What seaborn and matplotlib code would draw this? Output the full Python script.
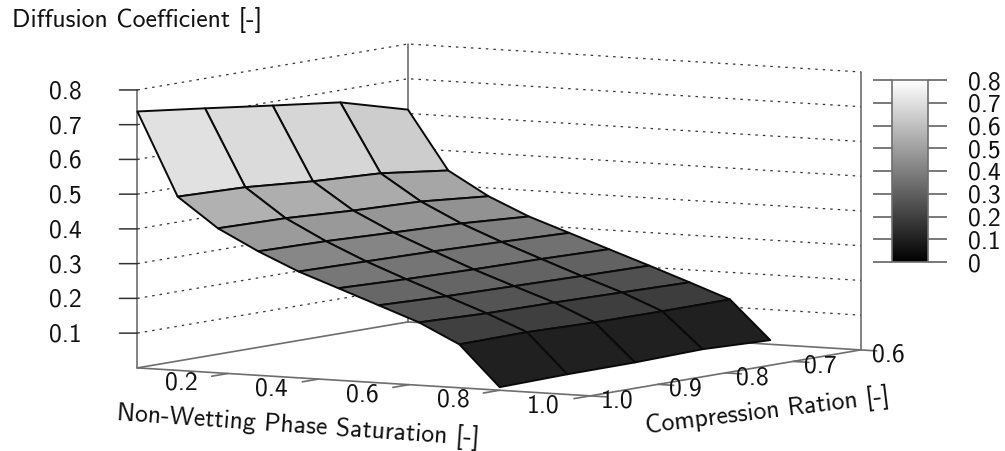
import numpy as np
import matplotlib
matplotlib.use("Agg")
import matplotlib.pyplot as plt
import seaborn as sns
from matplotlib.cm import ScalarMappable
from matplotlib.colors import Normalize
from mpl_toolkits.mplot3d import proj3d

# Values, one list per compression ratio
saturation = [0.0, 0.089, 0.178, 0.267, 0.356, 0.444, 0.533, 0.622, 0.711, 0.8]
compression = [1.0, 0.9, 0.8, 0.7, 0.6]
diff_c10 = [0.738, 0.500, 0.416, 0.357, 0.306, 0.265, 0.223, 0.181, 0.125, 0.009]
diff_c09 = [0.714, 0.494, 0.412, 0.353, 0.302, 0.258, 0.216, 0.174, 0.127, 0.013]
diff_c08 = [0.689, 0.478, 0.401, 0.345, 0.298, 0.253, 0.212, 0.172, 0.122, 0.014]
diff_c07 = [0.665, 0.468, 0.394, 0.338, 0.292, 0.250, 0.208, 0.168, 0.121, 0.019]
diff_c06 = [0.611, 0.443, 0.376, 0.325, 0.285, 0.245, 0.205, 0.164, 0.122, 0.012]

x_ticks = [0.2, 0.4, 0.6, 0.8, 1.0]
y_ticks = [1.0, 0.9, 0.8, 0.7, 0.6]
z_ticks = [0.1, 0.2, 0.3, 0.4, 0.5, 0.6, 0.7, 0.8]
cb_ticks = [0, 0.1, 0.2, 0.3, 0.4, 0.5, 0.6, 0.7, 0.8]
cb_labels = ["0", "0.1", "0.2", "0.3", "0.4", "0.5", "0.6", "0.7", "0.8"]

# Grey seen on a facet for a given mean height
shade_levels = [0, 0.07, 0.15, 0.205, 0.245, 0.285, 0.33, 0.385, 0.46, 0.62, 0.8]
shade_grays = [0, 0.13, 0.25, 0.35, 0.41, 0.47, 0.53, 0.61, 0.70, 0.89, 1]

sns.set_theme(style="white")
plt.rcParams["font.family"] = ["cmss10", "DejaVu Sans"]
plt.rcParams["axes.unicode_minus"] = False

axis_color = "#6e6e6e"
grid_style = {"color": "#333333", "lw": 0.9, "dashes": (2, 4), "zorder": 1}
axis_style = {"color": axis_color, "lw": 1.2, "zorder": 1}
text_color = "#111111"
font_size = 18.5

fig = plt.figure(figsize=(10.05, 4.51), dpi=100)
ax = fig.add_axes([-17 / 1005, -285 / 451, 1, 1005 / 451], projection="3d", proj_type="ortho")
ax.computed_zorder = False
ax.set_box_aspect((529, 524, 279.5), zoom=0.768)
ax.view_init(elev=5.88, azim=-58.9, roll=0)
ax.set_xlim(0, 1, view_margin=0)
ax.set_ylim(1.0, 0.6, view_margin=0)
ax.set_zlim(0, 0.8, view_margin=0)
ax.set_axis_off()


def tick_label(x, y, z, label, down=0):
    # Flat text at the projected spot of a data point, `down` pixels lower
    x2, y2, _ = proj3d.proj_transform(x, y, z, ax.get_proj())
    ax.text2D(x2, y2 - down * 0.185 / 1005, label, ha="center", va="center",
              fontsize=font_size, color=text_color)


# Box edges and the dotted grid on the two back walls
ax.plot([0, 0], [1.0, 1.0], [0, 0.8], **axis_style)
ax.plot([0, 0], [0.6, 0.6], [0, 0.8], **axis_style)
ax.plot([1, 1], [0.6, 0.6], [0, 0.8], **axis_style)
ax.plot([0, 1], [1.0, 1.0], [0, 0], **axis_style)
ax.plot([1, 1], [1.0, 0.6], [0, 0], **axis_style)
ax.plot([0, 0], [1.0, 0.6], [0, 0], **axis_style)
ax.plot([0, 1], [0.6, 0.6], [0, 0], **axis_style)
for z in z_ticks:
    ax.plot([0, 0, 1], [1.0, 0.6, 0.6], [z, z, z], **grid_style)
    # horizontal on screen
    ax.plot([0, -0.0291], [1.0, 1.00708], [z, z], color="#333333", lw=1.1, zorder=1)
    tick_label(-0.116, 1.0283, z, f"{z:.1f}", down=2)

for s in x_ticks:
    ax.plot([s, s], [1.0, 1.024], [0, 0], **axis_style)
    tick_label(s, 1.069, 0, f"{s:.1f}", down=2)
for c in y_ticks:
    ax.plot([1, 1.035], [c, c], [0, 0], **axis_style)
    tick_label(1.06, c, 0, f"{c:.1f}", down=3)

# The surface, one grey per facet
S, C = np.meshgrid(saturation, compression)
Z = np.array([diff_c10, diff_c09, diff_c08, diff_c07, diff_c06])
facet = (Z[:-1, :-1] + Z[1:, :-1] + Z[:-1, 1:] + Z[1:, 1:]) / 4
gray = sns.color_palette("gray", as_cmap=True)
ax.plot_surface(
    S, C, Z,
    rstride=1, cstride=1,
    facecolors=gray(np.interp(facet, shade_levels, shade_grays)),
    edgecolor="#0a0a0a", linewidth=1.4, shade=False, zorder=2,
)

fig.text(12 / 1005, 1 - 20 / 451, "Diffusion Coefficient [-]", fontsize=font_size, ha="left", va="center", color=text_color)
fig.text(298 / 1005, 1 - 426 / 451, "Non-Wetting Phase Saturation [-]", fontsize=font_size, rotation=-4,
         ha="center", va="center", rotation_mode="anchor", color=text_color)
fig.text(767 / 1005, 1 - 411 / 451, "Compression Ration [-]", fontsize=font_size, rotation=7,
         ha="center", va="center", rotation_mode="anchor", color=text_color)

# Colour box with ticks on both sides
cax = fig.add_axes([892 / 1005, 1 - 262 / 451, 36 / 1005, 182 / 451])
cbar = fig.colorbar(ScalarMappable(Normalize(0, 0.8), gray), cax=cax, ticks=cb_ticks)
cbar.outline.set_edgecolor(axis_color)
cbar.outline.set_linewidth(1.2)
cax.tick_params(axis="y", which="major", left=True, right=True, length=13.5, width=1.1,
                color="#555555", labelsize=font_size, labelcolor=text_color, pad=15)
cax.set_yticklabels(cb_labels)

fig.savefig("out.png", dpi=100)
